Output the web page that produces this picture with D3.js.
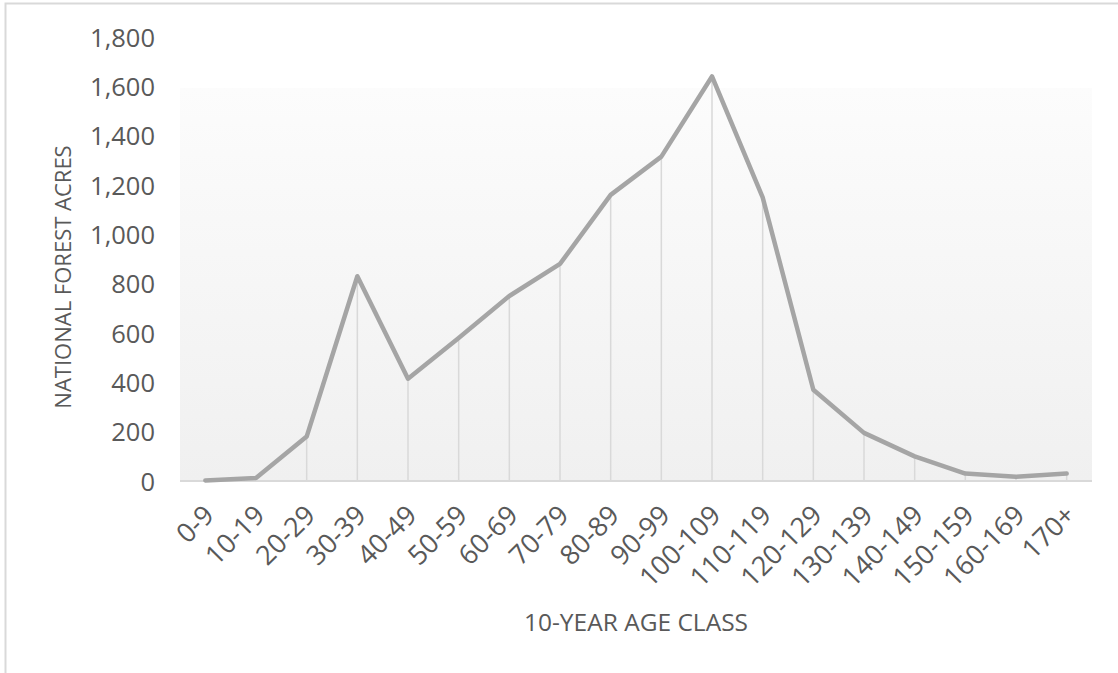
<!DOCTYPE html>
<html>
<head>
<meta charset="utf-8">
<script src="https://cdn.jsdelivr.net/npm/d3@7"></script>
<style>
  body { margin: 0; background: #fff; }
  svg text { font-family: "Open Sans", sans-serif; fill: #595959; }
</style>
</head>
<body>
<div id="container"></div>
<script>
const ageClasses = ["0-9", "10-19", "20-29", "30-39", "40-49", "50-59", "60-69", "70-79", "80-89",
  "90-99", "100-109", "110-119", "120-129", "130-139", "140-149", "150-159", "160-169", "170+"];
const acres = [2, 12, 180, 830, 415, 580, 750, 880, 1160, 1315, 1640, 1150, 370, 195, 100, 30, 17, 30];
const yTicks = [0, 200, 400, 600, 800, 1000, 1200, 1400, 1600, 1800];

const W = 1118, H = 673;
const plot = { left: 180, right: 1092, top: 37, bottom: 481 };

const svg = d3.select("#container")
  .append("svg")
  .attr("width", W)
  .attr("height", H);

// plot area gradient (white at top, light gray at bottom)
svg.append("defs").html(
  '<linearGradient id="bg" x1="0%" y1="0%" x2="0%" y2="100%">' +
    '<stop offset="0%" stop-color="#ffffff"/>' +
    '<stop offset="11.4%" stop-color="#ffffff"/>' +
    '<stop offset="11.5%" stop-color="#fcfcfc"/>' +
    '<stop offset="100%" stop-color="#f0f0f0"/>' +
  '</linearGradient>'
);

// chart border (only top/left visible in the frame)
svg.append("rect")
  .attr("x", 5.5).attr("y", 3.5)
  .attr("width", W + 50).attr("height", H + 50)
  .attr("fill", "none")
  .attr("stroke", "#d9d9d9")
  .attr("stroke-width", 2);

const x = d3.scalePoint()
  .domain(ageClasses)
  .range([plot.left, plot.right])
  .padding(0.5);

const y = d3.scaleLinear()
  .domain([0, 1800])
  .range([plot.bottom, plot.top]);

svg.append("rect")
  .attr("x", plot.left)
  .attr("y", plot.top)
  .attr("width", plot.right - plot.left)
  .attr("height", plot.bottom - plot.top)
  .attr("fill", "url(#bg)");

// drop lines
svg.append("g")
  .selectAll("line")
  .data(acres)
  .join("line")
  .attr("x1", (d, i) => x(ageClasses[i]))
  .attr("x2", (d, i) => x(ageClasses[i]))
  .attr("y1", d => y(d))
  .attr("y2", y(0))
  .attr("stroke", "#d9d9d9")
  .attr("stroke-width", 1.5);

// y axis (labels only)
const yAxis = svg.append("g")
  .attr("transform", "translate(" + plot.left + ",0)")
  .call(d3.axisLeft(y).tickValues(yTicks).tickFormat(d3.format(",")).tickSize(0).tickPadding(25));
yAxis.select(".domain").remove();
yAxis.selectAll("text")
  .style("font-size", "25.5px")
  .attr("dy", "0.36em");

// x axis
const xAxis = svg.append("g")
  .attr("transform", "translate(0," + plot.bottom + ")")
  .call(d3.axisBottom(x).tickSize(0));
xAxis.select(".domain")
  .attr("d", "M" + plot.left + ",0H" + plot.right)
  .attr("stroke", "#d9d9d9")
  .attr("stroke-width", 2);
xAxis.selectAll("text")
  .style("font-size", "27px")
  .style("text-anchor", "end")
  .attr("dy", "0.3em")
  .attr("transform", "translate(2,28) rotate(-45)");

// line
svg.append("path")
  .datum(acres)
  .attr("fill", "none")
  .attr("stroke", "#a5a5a5")
  .attr("stroke-width", 4.5)
  .attr("stroke-linejoin", "round")
  .attr("stroke-linecap", "round")
  .attr("d", d3.line().x((d, i) => x(ageClasses[i])).y(d => y(d)));

// axis titles
svg.append("text")
  .attr("x", 636)
  .attr("y", 631)
  .attr("text-anchor", "middle")
  .style("font-size", "24.5px")
  .text("10-YEAR AGE CLASS");

svg.append("text")
  .attr("transform", "translate(71,277) rotate(-90)")
  .attr("text-anchor", "middle")
  .style("font-size", "22px")
  .text("NATIONAL FOREST ACRES");
</script>
</body>
</html>
